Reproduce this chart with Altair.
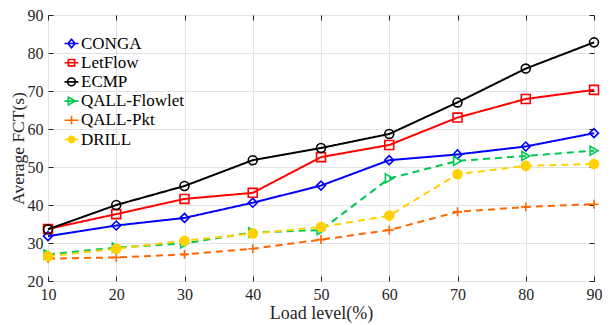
import altair as alt
import pandas as pd

loads = [10, 20, 30, 40, 50, 60, 70, 80, 90]
series_names = ["CONGA", "LetFlow", "ECMP", "QALL-Flowlet", "QALL-Pkt", "DRILL"]
conga = [31.8, 34.6, 36.6, 40.6, 45.1, 51.8, 53.3, 55.4, 58.9]
letflow = [33.7, 37.6, 41.6, 43.2, 52.6, 55.8, 63.0, 67.9, 70.3]
ecmp = [33.6, 40.0, 45.0, 51.8, 55.0, 58.7, 67.0, 75.9, 82.8]
qall_flowlet = [27.0, 28.8, 29.9, 32.8, 33.4, 47.0, 51.6, 52.9, 54.3]
qall_pkt = [25.9, 26.2, 27.0, 28.5, 30.9, 33.4, 38.2, 39.5, 40.2]
drill = [26.5, 28.5, 30.6, 32.5, 34.2, 37.2, 48.1, 50.3, 50.8]
y_ticks = [20, 30, 40, 50, 60, 70, 80, 90]

values = [conga, letflow, ecmp, qall_flowlet, qall_pkt, drill]
rows = []
for name, vals in zip(series_names, values):
    for x, v in zip(loads, vals):
        rows.append({"load": x, "fct": v, "series": name})
df = pd.DataFrame(rows)

colors = ["#0000FF", "#FF0000", "#000000", "#00C850", "#FF6600", "#FFD100"]
fills = ["transparent", "transparent", "transparent", "transparent", "transparent", "#FFD100"]
shapes = ["diamond", "square", "circle", "triangle-right", "M-1,0H1M0,-1V1", "circle"]
dashes = [[1, 0], [1, 0], [1, 0], [7, 5], [7, 5], [7, 5]]
legend_shapes = [
    "M-1,0H1M0,-0.62L0.5,0L0,0.62L-0.5,0Z",
    "M-1,0H1M-0.45,-0.45H0.45V0.45H-0.45Z",
    "M-1,0H1M0.55,0A0.55,0.55,0,1,1,-0.55,0A0.55,0.55,0,1,1,0.55,0",
    "M-1,0H1M-0.45,-0.55L0.55,0L-0.45,0.55Z",
    "M-1,0H1M0,-0.6V0.6",
    "M-1,0H1M0.45,0A0.45,0.45,0,1,1,-0.45,0A0.45,0.45,0,1,1,0.45,0",
]

FONT = "Liberation Serif"
TXT = "#262626"

xscale = alt.Scale(domain=[10, 90], nice=False, zero=False)
yscale = alt.Scale(domain=[20, 90], nice=False, zero=False)
cscale = alt.Scale(domain=series_names, range=colors)
fscale = alt.Scale(domain=series_names, range=fills)

x_main = alt.X("load:Q", scale=xscale,
               axis=alt.Axis(orient="bottom", offset=-5, tickSize=5, values=loads,
                             domain=False, grid=True, gridColor="#E3E3E3",
                             labelPadding=5, labelFont=FONT, labelFontSize=16, labelFlush=False,
                             labelColor=TXT, tickColor=TXT, title="Load level(%)",
                             titleFont=FONT, titleFontSize=18, titleFontWeight="normal",
                             titleColor=TXT, titlePadding=2))
y_main = alt.Y("fct:Q", scale=yscale,
               axis=alt.Axis(orient="left", offset=-5, tickSize=5, values=y_ticks,
                             domain=False, grid=True, gridColor="#E3E3E3",
                             labelPadding=5, labelFont=FONT, labelFontSize=16, labelFlush=False,
                             labelColor=TXT, tickColor=TXT, title="Average FCT(s)",
                             titleFont=FONT, titleFontSize=17.5, titleFontWeight="normal",
                             titleColor=TXT, titlePadding=0))

base = alt.Chart(df)
lines = base.mark_line(strokeWidth=2).encode(
    x=x_main, y=y_main,
    color=alt.Color("series:N", scale=cscale, legend=None),
    strokeDash=alt.StrokeDash("series:N", scale=alt.Scale(domain=series_names, range=dashes), legend=None),
    detail="series:N",
)
points = base.mark_point(filled=False, strokeWidth=1.6, opacity=1, size=80).encode(
    x=x_main, y=y_main,
    color=alt.Color("series:N", scale=cscale, legend=None),
    shape=alt.Shape("series:N", scale=alt.Scale(domain=series_names, range=shapes), legend=None),
    fill=alt.Fill("series:N", scale=fscale, legend=None),
)
main = alt.layer(lines, points)

leg_props = dict(labelFont=FONT, labelFontSize=17, labelColor="#000000",
                 symbolSize=196, symbolStrokeWidth=1.6, symbolOpacity=1, rowPadding=1.2,
                 labelOffset=1, padding=0)
leg = alt.Legend(title=None, orient="none", legendX=15, legendY=20, **leg_props)

frame = base.mark_point(opacity=0, filled=False).encode(
    x=alt.X("load:Q", scale=xscale,
            axis=alt.Axis(orient="top", offset=-5, tickSize=5, values=loads, labels=False,
                          domain=False, grid=False, tickColor=TXT, title=None)),
    y=alt.Y("fct:Q", scale=yscale,
            axis=alt.Axis(orient="right", offset=-5, tickSize=5, values=y_ticks, labels=False,
                          domain=False, grid=False, tickColor=TXT, title=None)),
    color=alt.Color("series:N", scale=cscale, legend=leg),
    shape=alt.Shape("series:N", scale=alt.Scale(domain=series_names, range=legend_shapes), legend=leg),
    fill=alt.Fill("series:N", scale=fscale, legend=leg),
)

chart = alt.layer(main, frame).resolve_scale(
    x="independent", y="independent", color="independent", shape="independent", fill="independent"
).properties(
    width=546, height=266, autosize="none", background="white",
    padding={"left": 40, "top": 7, "right": 8, "bottom": 42},
).configure_view(stroke=TXT, strokeWidth=1).configure_legend(**leg_props)

chart.save("out.html", embed_options={"renderer": "svg", "actions": False})
